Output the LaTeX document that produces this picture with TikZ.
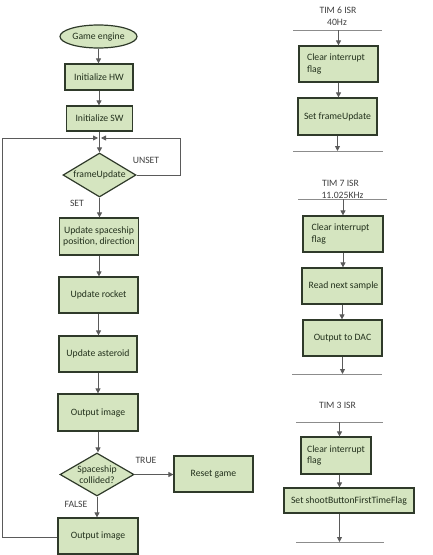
\documentclass[tikz,border=0pt]{standalone}
\usepackage{fontspec}
\setmainfont{Carlito}
\usetikzlibrary{shapes.geometric,arrows.meta}
\definecolor{fillc}{HTML}{D5E5C0}
\definecolor{bordc}{HTML}{2F3A2A}
\definecolor{txtc}{HTML}{22301C}
\definecolor{linec}{HTML}{5A5A5A}
\begin{document}
\begin{tikzpicture}[x=1pt,y=-1pt,
  font=\fontsize{9.7}{11.5}\selectfont,
  box/.style={draw=bordc,fill=fillc,line width=1.2pt,inner sep=0pt,text=txtc,align=center},
  lbox/.style={box,align=left},
  dia/.style={diamond,draw=bordc,fill=fillc,line width=1.2pt,inner sep=0pt},
  oval/.style={ellipse,draw=bordc,fill=fillc,line width=1.2pt,inner sep=0pt,text=txtc},
  dtext/.style={inner sep=0pt,text=txtc,align=center},
  con/.style={draw=linec,line width=0.8pt,-{Triangle[length=5pt,width=5pt]}},
  lbl/.style={text=black!75,inner sep=0pt},
  bar/.style={draw=black!45,line width=0.8pt}]
\useasboundingbox (0,0) rectangle (433,555);
% ---------- left column ----------
\node[oval,minimum width=77,minimum height=23] (ge) at (98.5,36.5) {Game engine};
\node[box,minimum width=68,minimum height=26] (hw) at (99,77) {Initialize HW};
\node[box,minimum width=66,minimum height=25] (sw) at (99.5,118.5) {Initialize SW};
\coordinate (j) at (99.5,138);
\node[dia,minimum width=73,minimum height=44] (fu) at (99.5,175) {};
\node[dtext] at (fu) {frameUpdate};
\node[box,minimum width=79,minimum height=37] (sp) at (99,236.5) {Update spaceship\\position, direction};
\node[box,minimum width=79,minimum height=36] (ro) at (98.5,295) {Update rocket};
\node[box,minimum width=78,minimum height=36] (as) at (98,354) {Update asteroid};
\node[box,minimum width=80,minimum height=37] (o1) at (98,412.5) {Output image};
\node[dia,minimum width=74,minimum height=43] (co) at (97,474.5) {};
\node[dtext] at (co) {Spaceship\\collided?};
\node[box,minimum width=79,minimum height=36] (rg) at (213.5,474) {Reset game};
\node[box,minimum width=80,minimum height=36] (o2) at (98,536) {Output image};
\coordinate (ll) at (2,537);
\coordinate (lu) at (2,138);
\coordinate (rr) at (180,175);
\coordinate (ru) at (180,138);

\draw[con] (ge.south) -- (ge.south |- hw.north);
\draw[con] (hw.south) -- (hw.south |- sw.north);
\draw[con] (sw.south) -- (sw.south |- fu.north);
\draw[con] (o2.west |- ll) -- (ll) -- (lu) -- ([xshift=-1.5]j);
\draw[con] (fu.east) -- (rr) -- (ru) -- ([xshift=1.5]j);
\draw[con] (fu.south) -- (fu.south |- sp.north);
\draw[con] (sp.south) -- (sp.south |- ro.north);
\draw[con] (ro.south) -- (ro.south |- as.north);
\draw[con] (as.south) -- (as.south |- o1.north);
\draw[con] (o1.south) -- (o1.south |- co.north);
\draw[con] (co.east) -- (co.east -| rg.west);
\draw[con] (co.south) -- (co.south |- o2.north);
\node[lbl] at (146,160) {UNSET};
\node[lbl] at (77,203) {SET};
\node[lbl] at (146,460) {TRUE};
\node[lbl] at (76,504) {FALSE};
% ---------- TIM 6 ----------
\node[lbl] (t6) at (338,10) {TIM 6 ISR};
\node[lbl] (f6) at (337,22) {40Hz};
\coordinate (a6l) at (293,30); \coordinate (a6r) at (382,30); \coordinate (a6) at (338.5,30);
\draw[bar] (a6l) -- (a6r);
\node[lbl,box,lbox,minimum width=79,minimum height=36] (c6) at (338.5,64) {Clear interrupt\hspace*{5pt}\\flag};
\node[box,minimum width=79,minimum height=37] (s6) at (337.5,116.5) {Set frameUpdate};
\coordinate (b6l) at (293,151); \coordinate (b6r) at (383,151); \coordinate (b6) at (338,151);
\draw[bar] (b6l) -- (b6r);
\draw[con] (a6) -- (a6 |- c6.north);
\draw[con] (c6.south) -- (c6.south |- s6.north);
\draw[con] (s6.south) -- (s6.south |- b6);
% ---------- TIM 7 ----------
\node[lbl] (t7) at (340.5,183) {TIM 7 ISR};
\node[lbl] (f7) at (342.5,195) {11.025KHz};
\coordinate (a7l) at (298,199); \coordinate (a7r) at (387,199); \coordinate (a7) at (343,199);
\draw[bar] (a7l) -- (a7r);
\node[lbox,minimum width=80,minimum height=36] (c7) at (343,234) {Clear interrupt\hspace*{5pt}\\flag};
\node[box,minimum width=80,minimum height=36] (r7) at (342,286) {\hspace*{3pt}Read next sample};
\node[box,minimum width=79,minimum height=36] (o7) at (342.5,338) {Output to DAC};
\coordinate (b7l) at (292,374); \coordinate (b7r) at (382,374); \coordinate (b7) at (342,374);
\draw[bar] (b7l) -- (b7r);
\draw[con] (a7) -- (a7 |- c7.north);
\draw[con] (c7.south) -- (c7.south |- r7.north);
\draw[con] (r7.south) -- (r7.south |- o7.north);
\draw[con] (o7.south) -- (o7.south |- b7);
% ---------- TIM 3 ----------
\node[lbl] (t3) at (337.5,405) {TIM 3 ISR};
\coordinate (a3l) at (296,422); \coordinate (a3r) at (383,422); \coordinate (a3) at (339.5,422);
\draw[bar] (a3l) -- (a3r);
\node[lbox,minimum width=70,minimum height=37] (c3) at (336,455.5) {Clear interrupt\\flag};
\node[box,minimum width=130,minimum height=25] (sb) at (349,500.5) {Set shootButtonFirstTimeFlag};
\coordinate (b3l) at (296,542); \coordinate (b3r) at (384,542); \coordinate (b3) at (339.5,542);
\draw[bar] (b3l) -- (b3r);
\draw[con] (a3) -- (a3 |- c3.north);
\draw[con] (a3 |- c3.south) -- (a3 |- sb.north);
\draw[con] (a3 |- sb.south) -- (b3);
\end{tikzpicture}
\end{document}
